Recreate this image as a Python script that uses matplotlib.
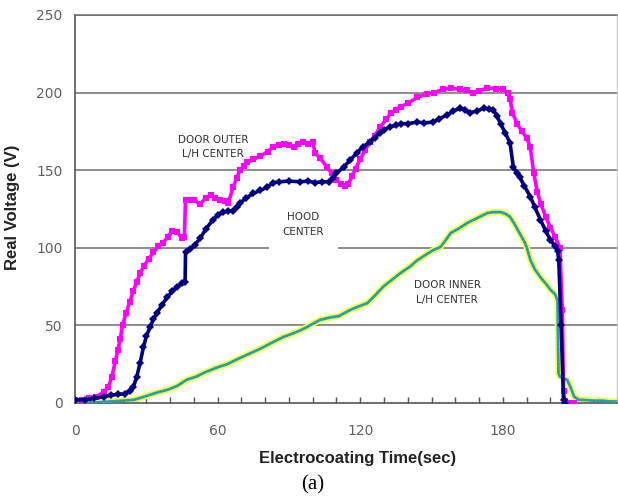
import matplotlib
matplotlib.use("Agg")
import matplotlib.pyplot as plt
from matplotlib.ticker import MultipleLocator, FixedLocator

# ---- data ----
outer_t = [0, 3, 6, 9, 12, 14, 15.5, 17, 18, 19, 20, 21.5, 23, 24.5, 26, 27.5, 29, 31, 33, 35,
           37, 39, 41, 43, 45, 46, 46.5, 48, 50, 52.5, 55, 57, 59, 61, 63, 64.5, 66.5, 68, 69.5, 71,
           72.5, 75, 78, 81, 83.5, 86, 88, 90, 92, 94, 96, 98, 100, 101, 103, 106, 108, 110, 112, 113.5,
           115, 116.5, 118, 120, 122, 124, 126, 128.5, 131, 133, 135, 137, 140, 144, 148, 151, 155, 158, 162, 165,
           167.5, 170, 173.5, 177, 180, 182, 183, 184, 186, 188, 190, 191.5, 193, 194.5, 196, 198, 200, 202, 204, 205,
           205.5, 206, 207, 208, 210]
outer_v = [2, 2, 3, 4, 7, 10, 17, 27, 34, 41, 50, 58, 65, 72, 78, 84, 88, 93, 97, 101,
           103, 107, 111, 110, 106, 107, 131, 131, 131, 128, 132, 134, 132, 131, 130, 129, 139, 145, 150, 153,
           155, 157, 159, 162, 165, 166, 167, 166, 165, 167, 168, 167, 168, 161, 158, 152, 148, 144, 141, 140,
           141, 146, 151, 157, 163, 168, 172, 178, 183, 187, 189, 191, 193, 197, 199, 200, 202, 203, 202, 201.5,
           199.5, 201, 203, 202.5, 202, 200, 196, 187, 180, 175, 171, 165, 148, 136, 128, 120, 113, 107, 100, 60,
           8, 1, 0, 0, 0]

hood_t = [0, 4, 8, 12, 15, 18, 21, 23, 24.6, 26, 27.4, 28.8, 30, 31.6, 33, 34.5, 36.5, 38.7, 41, 43,
          45, 46.3, 46.5, 48.4, 50.5, 52.6, 55, 58, 60, 62.3, 64.5, 66.5, 68, 69.5, 72, 75, 78, 80.8, 83.4, 86,
          90, 94.7, 98, 101, 104, 107, 108.5, 110, 113, 115.8, 118.5, 121, 124, 126, 128.4, 130, 132.6, 135, 137, 140,
          144, 147, 150.8, 153, 156.6, 159, 162, 164, 166, 169, 172, 174, 176, 177.5, 179, 181, 183, 184.4, 186, 187,
          189, 191.6, 193.5, 195.8, 198, 200, 202, 203, 203.5, 204.5, 205.5, 206]
hood_v = [2, 2, 3, 4, 5, 5.5, 6, 8, 10.5, 17, 26, 36, 43, 49, 54, 58, 63, 68, 72, 75,
          77, 78, 97, 99, 102, 106, 112, 118, 121, 123, 123.5, 124, 126, 129, 132, 135, 137, 139, 142, 142.5,
          143, 142.5, 143, 142, 142.5, 142.5, 145, 148, 152, 156.6, 161, 165, 168, 171, 174, 176, 178, 179, 180, 180,
          181, 180.5, 181, 183, 185.6, 188, 190, 189, 187, 188, 190, 189.5, 188.8, 185, 180, 174, 167.5, 152, 148, 145.6,
          140, 132.7, 126, 118, 111, 105, 101, 98, 92, 50, 2, 0]

inner_t = [0, 5, 10, 15, 20, 24.6, 28, 31, 35, 38.7, 43, 47, 51, 55, 60, 64, 68, 73.7, 78, 83,
           87.6, 92, 95, 97.7, 100, 103, 107, 111, 115.8, 119, 123, 126, 129.7, 133, 137, 141, 144, 147, 150.8, 153.7,
           156, 158, 161, 165, 169, 173.5, 176, 179, 181, 183, 185, 187, 189, 190, 191.6, 193.5, 195.8, 198, 200, 202,
           203, 203.2, 203.4, 204, 205, 207, 208.5, 210, 212, 214, 218, 222, 225, 228]
inner_v = [0.5, 0.5, 0.5, 1, 1.5, 2, 3.5, 5, 7, 8.4, 11, 15, 17, 20, 23, 25, 28, 32, 35, 39,
           42.5, 45, 47, 49, 51, 53.5, 55, 56, 60, 62, 64.4, 69, 75, 79, 83.8, 88, 92, 95, 98.6, 100.5,
           105, 109.5, 112, 116, 119, 122.4, 123, 123, 122, 120, 115, 109.5, 104, 100.5, 92, 86, 81, 77, 73, 70,
           66, 40, 19, 17, 16, 15, 10, 4, 2, 2, 1.5, 1.5, 1, 1]

y_ticks = [0, 50, 100, 150, 200, 250]
x_ticks = [0, 60, 120, 180]

# ---- figure ----
fig = plt.figure(figsize=(6.18, 4.98), dpi=100)
ax = fig.add_axes([75/618, 1-403/498, 542/618, 388/498])

grid_c = "#6e6e6e"
for yv in y_ticks[1:]:
    ax.axhline(yv, color=grid_c, lw=1.1, zorder=1)

ax.plot(inner_t, inner_v, color="#FFFF33", lw=4.5, solid_capstyle="round", zorder=2)
ax.plot(inner_t, inner_v, color="#1FA0D8", lw=2.0, zorder=3)
ax.plot(inner_t, inner_v, color="#2E9E3A", lw=0.9, ls=(0, (1, 2)), zorder=3.5)

ax.plot(outer_t, outer_v, color="#FF00FF", lw=2.6, marker="s", ms=4.5, mew=0, zorder=4)
ax.plot(hood_t, hood_v, color="#000080", lw=2.6, marker="D", ms=4.2, mew=0, zorder=5)

ax.set_xlim(0, 228)
ax.set_ylim(0, 250)

ax.xaxis.set_major_locator(FixedLocator(x_ticks))
ax.xaxis.set_minor_locator(MultipleLocator(10))
ax.yaxis.set_major_locator(FixedLocator(y_ticks))
ax.tick_params(axis="x", which="both", direction="in", length=4, width=1, color="#555555",
               pad=15, labelsize=10, labelcolor="#606060")
ax.tick_params(axis="y", which="both", length=0, pad=9, labelsize=10, labelcolor="#606060")

for s in ("left", "bottom"):
    ax.spines[s].set_color("#555555")
    ax.spines[s].set_linewidth(1.2)
ax.spines["top"].set_color(grid_c)
ax.spines["top"].set_linewidth(1.1)
ax.spines["right"].set_color("#c8c8c8")
ax.spines["right"].set_linewidth(1)

lab_font = dict(family="Liberation Sans", fontweight="bold", color="#222222")
fig.text(358/618, 1-458/498, "Electrocoating Time(sec)", ha="center", va="center", fontsize=12, **lab_font)
fig.text(13/618, 1-207/498, "Real Voltage (V)", ha="center", va="center", rotation=90, fontsize=12, **lab_font)
fig.text(313/618, 1-485/498, "(a)", ha="center", va="center", fontsize=15, family="Liberation Serif", color="black")

ann = dict(fontsize=7.5, color="#333333", ha="center", va="center", linespacing=1.6)
ax.text(58, 165, "DOOR OUTER\nL/H CENTER", zorder=3.8, **ann)
ax.text(96, 115, "HOOD\nCENTER", zorder=3.8,
        bbox=dict(facecolor="white", edgecolor="none", pad=10), **ann)
ax.text(156.5, 71, "DOOR INNER\nL/H CENTER", zorder=3.8, **ann)

fig.savefig("out.png", dpi=100)
